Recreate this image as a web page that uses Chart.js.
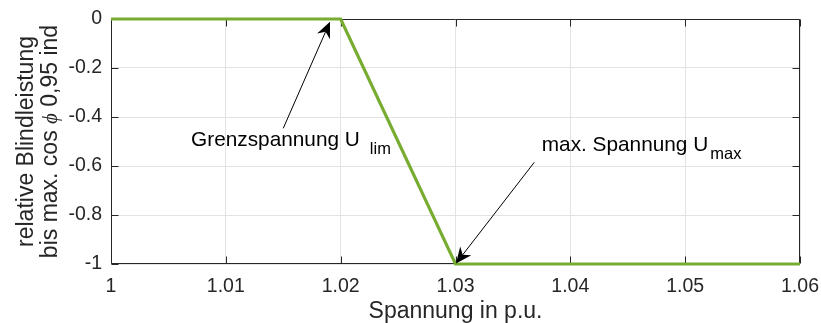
<!DOCTYPE html>
<html>
<head>
<meta charset="utf-8">
<script src="https://cdn.jsdelivr.net/npm/chart.js@4/dist/chart.umd.min.js"></script>
<style>
  html, body { margin: 0; padding: 0; background: #ffffff; }
  canvas { display: block; }
</style>
</head>
<body>
<canvas id="chart" width="821" height="323"></canvas>
<script>
// Q(U) characteristic: relative reactive power over voltage
const voltage = [1.00, 1.02, 1.03, 1.06];
const reactivePower = [0, 0, -1, -1];

const xTickValues = [1, 1.01, 1.02, 1.03, 1.04, 1.05, 1.06];
const xTickLabels = ['1', '1.01', '1.02', '1.03', '1.04', '1.05', '1.06'];
const yTickValues = [-1, -0.8, -0.6, -0.4, -0.2, 0];
const yTickLabels = ['-1', '-0.8', '-0.6', '-0.4', '-0.2', '0'];

const xTitle = 'Spannung in p.u.';
const yTitleLine1 = 'relative Blindleistung';
const yTitleLine2 = ['bis max. cos ', 'ϕ', ' 0,95 ind'];

// annotations (data coordinates)
const noteTexts = ['Grenzspannung U', 'max. Spannung U'];
const noteSubscripts = ['lim', 'max'];
const noteTextX = [1.00697, 1.03751];
const noteTextY = [-0.517, -0.5375];
const arrowTailX = [1.0150, 1.03686];
const arrowTailY = [-0.446, -0.585];
const arrowHeadX = [1.01907, 1.03004];
const arrowHeadY = [-0.011, -0.998];

const FONT = '"Liberation Sans", Arial, Helvetica, sans-serif';
const AXIS_COLOR = '#262626';
const subGap = [10, 2];

function labelFor(values, labels, v) {
  for (let i = 0; i < values.length; i++) {
    if (Math.abs(values[i] - v) < 1e-9) return labels[i];
  }
  return '';
}

const axesFrame = {
  id: 'axesFrame',
  beforeDatasetsDraw(chart) {
    const { ctx, chartArea: a, scales: { x, y } } = chart;
    const L = Math.round(a.left) + 0.5, R = Math.round(a.right) - 0.5;
    const T = Math.round(a.top) + 0.5, B = Math.round(a.bottom) - 0.5;
    const tl = 7;
    ctx.save();
    ctx.strokeStyle = AXIS_COLOR;
    ctx.lineWidth = 1;
    ctx.beginPath();
    ctx.rect(L, T, R - L, B - T);
    xTickValues.forEach(v => {
      const px = Math.round(x.getPixelForValue(v)) + 0.5;
      ctx.moveTo(px, B); ctx.lineTo(px, B - tl);
      ctx.moveTo(px, T); ctx.lineTo(px, T + tl);
    });
    yTickValues.forEach(v => {
      const py = Math.round(y.getPixelForValue(v)) + 0.5;
      ctx.moveTo(L, py); ctx.lineTo(L + tl, py);
      ctx.moveTo(R, py); ctx.lineTo(R - tl, py);
    });
    ctx.stroke();
    ctx.restore();
  },
  afterDatasetsDraw(chart) {
    const { ctx, chartArea: a, scales: { x, y } } = chart;
    ctx.save();
    // annotation arrows and texts
    for (let i = 0; i < noteTexts.length; i++) {
      const tx = x.getPixelForValue(arrowTailX[i]), ty = y.getPixelForValue(arrowTailY[i]);
      const hx = x.getPixelForValue(arrowHeadX[i]), hy = y.getPixelForValue(arrowHeadY[i]);
      const ang = Math.atan2(hy - ty, hx - tx);
      const len = 16, half = 7, notch = 11;
      const ux = Math.cos(ang), uy = Math.sin(ang);
      const bx = hx - ux * len, by = hy - uy * len;
      const nx = hx - ux * notch, ny = hy - uy * notch;
      ctx.strokeStyle = '#000000';
      ctx.fillStyle = '#000000';
      ctx.lineWidth = 1;
      ctx.beginPath();
      ctx.moveTo(tx, ty);
      ctx.lineTo(nx, ny);
      ctx.stroke();
      ctx.beginPath();
      ctx.moveTo(hx, hy);
      ctx.lineTo(bx - uy * half, by + ux * half);
      ctx.lineTo(nx, ny);
      ctx.lineTo(bx + uy * half, by - ux * half);
      ctx.closePath();
      ctx.fill();

      const px = x.getPixelForValue(noteTextX[i]);
      const py = y.getPixelForValue(noteTextY[i]);
      ctx.textAlign = 'left';
      ctx.textBaseline = 'alphabetic';
      ctx.font = '20.8px ' + FONT;
      ctx.fillText(noteTexts[i], px, py);
      const w = ctx.measureText(noteTexts[i]).width;
      ctx.font = '16.5px ' + FONT;
      ctx.fillText(noteSubscripts[i], px + w + subGap[i], py + 8);
    }

    // axis titles
    ctx.fillStyle = AXIS_COLOR;
    ctx.textBaseline = 'alphabetic';
    ctx.font = '23px ' + FONT;
    ctx.textAlign = 'center';
    ctx.fillText(xTitle, (a.left + a.right) / 2, a.bottom + 54);

    const cy = (a.top + a.bottom) / 2;
    ctx.save();
    ctx.translate(a.left - 78, cy);
    ctx.rotate(-Math.PI / 2);
    ctx.fillText(yTitleLine1, 0, 0);
    ctx.restore();

    const fonts = ['23px ' + FONT, 'italic 21px "Liberation Serif", "DejaVu Serif", serif', '23px ' + FONT];
    let total = 0;
    const widths = yTitleLine2.map((s, k) => { ctx.font = fonts[k]; const m = ctx.measureText(s).width; total += m; return m; });
    ctx.save();
    ctx.translate(a.left - 54, cy);
    ctx.rotate(-Math.PI / 2);
    ctx.textAlign = 'left';
    let cx = -total / 2;
    yTitleLine2.forEach((s, k) => { ctx.font = fonts[k]; ctx.fillText(s, cx, 0); cx += widths[k]; });
    ctx.restore();
    ctx.restore();
  }
};

new Chart(document.getElementById('chart'), {
  type: 'line',
  data: {
    datasets: [{
      data: voltage.map((v, i) => ({ x: v, y: reactivePower[i] })),
      borderColor: '#77AC30',
      borderWidth: 3.2,
      pointRadius: 0,
      tension: 0,
      fill: false,
      clip: false
    }]
  },
  options: {
    responsive: false,
    devicePixelRatio: 1,
    animation: false,
    layout: { padding: { top: 19, right: 21, bottom: 0, left: 0 } },
    plugins: { legend: { display: false }, tooltip: { enabled: false } },
    scales: {
      x: {
        type: 'linear',
        min: 1, max: 1.06,
        afterBuildTicks: s => { s.ticks = xTickValues.map(v => ({ value: v })); },
        afterFit: s => { s.height = 59; s.paddingLeft = 0; s.paddingRight = 0; },
        grid: { color: '#e3e3e3', lineWidth: 1, drawTicks: false },
        border: { display: false },
        ticks: {
          autoSkip: false, maxRotation: 0, padding: 11,
          color: AXIS_COLOR,
          font: { family: FONT, size: 19.5 },
          callback: v => labelFor(xTickValues, xTickLabels, v)
        }
      },
      y: {
        type: 'linear',
        min: -1, max: 0,
        afterBuildTicks: s => { s.ticks = yTickValues.map(v => ({ value: v })); },
        afterFit: s => { s.width = 111; s.paddingTop = 0; s.paddingBottom = 0; },
        grid: { color: '#e3e3e3', lineWidth: 1, drawTicks: false },
        border: { display: false },
        ticks: {
          padding: 9,
          color: AXIS_COLOR,
          font: { family: FONT, size: 19.5 },
          callback: v => labelFor(yTickValues, yTickLabels, v)
        }
      }
    }
  },
  plugins: [axesFrame]
});
</script>
</body>
</html>
